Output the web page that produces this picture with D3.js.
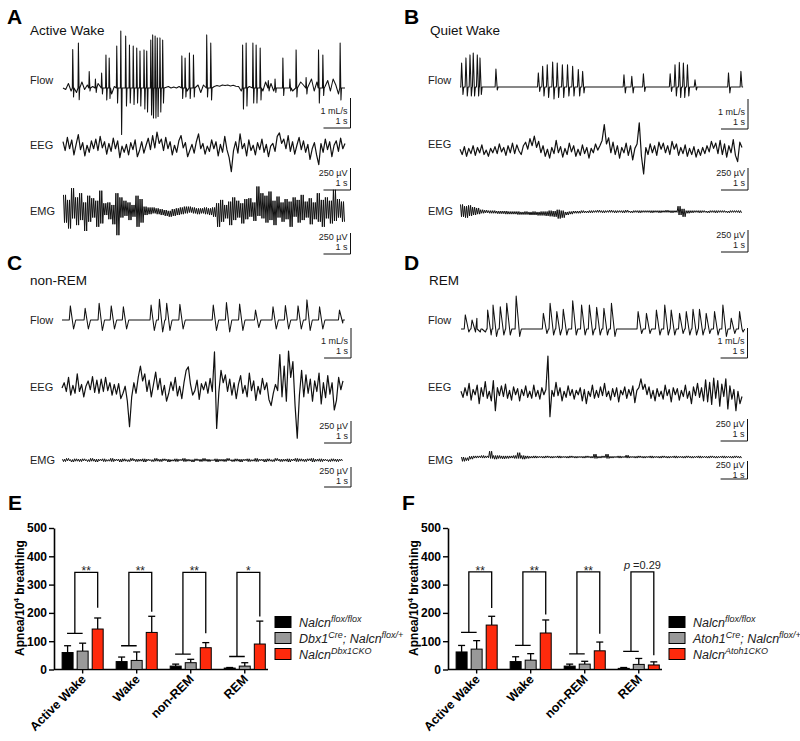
<!DOCTYPE html>
<html>
<head>
<meta charset="utf-8">
<script src="https://cdn.jsdelivr.net/npm/d3@7"></script>
<style>
  body { margin: 0; background: #fff; }
  svg { display: block; font-family: Arial, "Liberation Sans", sans-serif; }
</style>
</head>
<body>
<div id="fig"></div>
<script>
// ---- trace data (time in s, flow in mL/s, EEG/EMG in µV) ----
const DUR = 10.44;

// breaths: [time, peak, trough]
const flowA = [[0.36,1.28,-0.3],[0.57,1.5,-0.39],[0.97,0.55,-0.1],[1.2,0.3,-0.15],[1.43,0.5,-0.2],
  [1.59,1.1,-0.4],[1.71,1.0,-0.35],[1.99,1.4,-0.5],[2.14,1.9,-1.55],[2.32,1.73,-0.6],[2.46,1.43,-0.5],
  [2.6,1.4,-0.55],[2.73,1.33,-0.5],[2.85,1.23,-0.6],[3.0,1.27,-0.7],[3.1,1.23,-0.8],[3.25,1.6,-0.9],
  [3.32,1.77,-1.0],[3.41,1.73,-1.0],[3.49,1.67,-0.95],[3.59,1.67,-0.8],[3.69,1.6,-0.5],
  [4.4,1.07,-0.35],[4.52,1.0,-0.3],[4.68,1.17,-0.35],[4.83,1.1,-0.3],[5.32,1.77,-0.3],[5.47,1.5,-0.4],
  [6.65,1.43,-0.7],[6.78,1.5,-0.6],[7.03,1.5,-0.5],[7.15,1.43,-0.5],[7.3,1.33,-0.4],[7.6,0.25,-0.1],
  [7.85,0.3,-0.15],[8.14,1.0,-0.25],[8.4,0.3,-0.1],[8.63,1.27,-0.3],[9.0,0.35,-0.2],[9.46,1.27,-0.5],
  [9.62,1.1,-0.25],[10.26,1.5,-0.4]];
// baseline of flow A between breaths, every 0.1 s
const flowBaseA = [0.1,-0.05,0.15,-0.1,0.05,-0.15,0.1,0.2,-0.05,0.1,-0.1,
  0.05,-0.2,0.15,-0.1,0.0,-0.15,0.1,-0.2,0.05,-0.1,
  -0.2,0.1,-0.3,0.0,-0.2,0.05,-0.25,0.0,-0.3,-0.1,
  -0.3,0.0,-0.35,-0.1,-0.3,0.0,-0.15,0.02,0.05,0.0,
  0.03,0.0,0.05,-0.05,0.1,-0.1,0.05,0.15,-0.1,0.1,
  -0.15,0.1,-0.1,0.05,-0.05,0.05,0.08,0.06,0.1,0.08,
  0.1,0.07,0.09,0.06,0.05,-0.1,0.1,-0.2,0.05,-0.15,
  0.1,-0.2,0.1,-0.1,0.2,-0.05,0.15,-0.1,0.25,0.0,
  -0.1,0.2,0.0,0.15,-0.1,0.3,-0.05,0.2,0.1,0.4,
  0.1,0.3,-0.1,0.2,-0.2,0.1,0.05,0.25,-0.1,0.3,
  0.1,-0.2,0.2,0.0];
const flowB = [[0.06,0.8,-0.25],[0.22,0.97,-0.3],[0.37,1.07,-0.3],[0.49,1.13,-0.3],[0.64,1.07,-0.3],
  [0.74,0.97,-0.25],[1.33,0.6,-0.1],[2.9,0.47,-0.15],[3.06,0.69,-0.3],[3.23,0.74,-0.35],[3.43,0.83,-0.4],
  [3.6,0.8,-0.35],[3.79,0.74,-0.35],[3.98,0.74,-0.3],[4.17,0.69,-0.3],[4.38,0.58,-0.3],[4.54,0.52,-0.2],
  [6.07,0.41,-0.2],[6.36,0.36,-0.2],[6.79,0.44,-0.15],[7.78,0.44,-0.15],[7.96,0.74,-0.3],[8.12,0.82,-0.35],
  [8.27,0.8,-0.35],[8.42,0.74,-0.3],[8.7,0.24,-0.1],[9.94,0.47,-0.2],[10.4,0.52,0]];
const flowC = [[0.31,0.47,-0.3],[0.86,0.39,-0.3],[1.38,0.56,-0.35],[1.83,0.47,-0.3],[2.28,0.44,-0.3],
  [3.31,0.5,-0.35],[3.62,0.69,-0.4],[3.89,0.56,-0.35],[4.38,0.52,-0.3],[5.62,0.5,-0.35],[6.11,0.58,-0.4],
  [6.6,0.53,-0.35],[7.19,0.33,-0.25],[7.84,0.44,-0.3],[8.3,0.48,-0.3],[8.77,0.47,-0.3],[9.1,0.67,-0.35],
  [9.57,0.44,-0.3],[10.31,0.33,-0.1]];
const flowD = [[0.16,0.47,-0.1],[0.41,0.3,-0.1],[0.59,0.36,-0.1],[0.78,0.36,-0.1],[0.99,0.63,-0.2],
  [1.19,0.8,-0.25],[1.46,0.74,-0.2],[1.7,0.86,-0.2],[2.05,1.1,-0.25],[3.06,0.52,-0.15],[3.31,0.86,-0.2],
  [3.56,0.58,-0.2],[3.8,0.66,-0.2],[4.15,0.94,-0.2],[4.48,0.8,-0.2],[4.77,0.8,-0.2],[5.04,0.72,-0.2],
  [5.31,0.69,-0.2],[5.59,0.86,-0.25],[6.58,0.58,-0.15],[6.89,0.52,-0.15],[7.26,0.63,-0.2],[7.57,0.8,-0.2],
  [7.81,0.63,-0.2],[8.12,0.52,-0.15],[8.37,0.58,-0.2],[8.62,0.66,-0.2],[8.86,0.66,-0.2],[9.11,0.52,-0.15],
  [9.42,0.58,-0.2],[9.73,0.8,-0.25],[10.04,0.36,-0.15],[10.35,0.58,-0.1]];

// EEG: evenly spaced samples
const eegA = [60,-40,110,-20,80,-90,30,140,-30,50,-100,20,-60,70,-20,90,-40,
  120,-10,60,-80,40,-50,100,-20,70,-120,10,-60,30,-90,50,-30,80,-110,-40,60,-70,20,100,-30,130,-10,
  170,40,90,-40,110,-20,60,-90,20,-60,70,130,-10,50,-110,-40,30,-70,60,150,-20,40,-80,10,-50,80,-20,60,-100,30,-60,120,-30,-120,-280,
  -40,60,-70,150,-20,40,-100,80,-40,20,-90,50,-30,90,-60,30,-110,10,40,-50,120,160,40,90,-20,130,-50,60,-80,20,110,-30,70,-60,30,-140,-20,50,-90,-200,40,-60,90,-30,60,-110,20,70,-50,100,-20,40];
const eegB = [20,-40,50,-60,30,-30,60,-50,40,-20,70,-40,10,-60,30,-20,50,-30,80,-10,40,-50,60,-20,90,-30,70,0,-40,60,100,20,140,
  60,170,40,110,-20,60,-60,20,-80,40,-30,120,-20,50,-70,30,-40,90,-10,60,-60,20,-50,70,-30,40,-80,30,-20,80,10,60,
  120,300,80,150,-20,100,-40,60,-80,40,-20,90,-50,60,-100,30,80,320,-60,-260,40,-40,80,-20,60,-50,100,20,
  90,-20,60,-40,110,20,80,-50,40,-30,70,-60,30,-40,50,-70,20,-50,40,-30,60,-10,110,30,90,-30,120,-40,80,-70,60,-20,130,-50,-120,100,40];
const eegC = [0,60,-40,120,-80,30,-60,160,-40,40,-100,20,80,-20,130,-50,90,-60,100,-40,120,-30,60,-80,40,-70,50,-120,-60,20,
  -150,-440,-100,60,-60,120,250,80,160,-40,90,-100,40,180,-20,110,-80,30,-150,-60,70,-30,120,-90,20,-120,60,200,240,40,-80,-30,90,-130,50,-20,70,-60,110,-40,
  410,-460,-50,200,60,150,-40,100,-80,60,-120,40,140,-60,30,-100,170,-30,80,-140,20,-70,110,-20,60,-130,-200,-60,40,-30,380,-100,250,-150,420,120,300,-200,-570,-80,
  200,-100,150,-60,100,-150,80,-40,170,-180,60,-110,140,-70,60,-250,-140,120,-20,80];
const eegD = [20,-50,60,-30,110,-80,40,-20,90,-120,60,-40,130,-60,20,-90,140,-200,60,-30,80,-40,100,-60,30,-80,70,-20,50,-90,40,-30,80,-50,20,-60,90,-40,30,-70,60,-20,40,420,-270,
  30,-40,120,-30,60,-90,20,-50,80,-30,40,-70,30,-20,60,-90,40,-120,20,-40,90,-60,30,-50,70,-30,110,-40,20,-80,50,-40,60,-100,30,-20,70,-60,40,-30,80,-110,30,
  60,160,40,100,-20,70,-60,30,-90,50,-40,20,-70,90,-30,40,-100,60,-20,50,-80,30,-40,90,-60,20,-120,70,-30,110,-50,60,-90,150,-100,120,-130,170,-60,140,-150,100,-40,160,-180,80,-70,40,-200,20,-120,-40];

// EMG: [low, high] per time bin
const emgA = [[-150,180],[-220,120],[-100,260],[-180,150],[-120,200],[-250,90],[-140,170],[-90,140],[-200,110],[-160,230],
  [-60,80],[-110,90],[-170,60],[-300,200],[-90,150],[-70,110],[-120,90],[-80,60],[-200,170],[-150,130],
  [-60,40],[-50,30],[-40,30],[-50,20],[-60,10],[-70,0],[-80,-10],[-70,10],[-60,20],[-50,30],[-40,40],[-30,40],[-40,30],[-50,20],[-40,20],[-50,30],[-60,20],[-80,30],
  [-200,80],[-140,120],[-100,60],[-180,100],[-120,150],[-90,110],[-160,80],[-110,130],[-80,140],[-130,90],[-70,280],[-100,200],[-150,170],[-120,220],[-180,110],[-90,160],
  [-140,90],[-110,130],[-200,100],[-80,150],[-150,120],[-120,180],[-90,100],[-170,140],[-110,90],[-140,200],[-200,120],[-100,150],[-160,110],[-130,240],[-90,130],[-140,100]];
const emgB = [[-60,80],[-70,60],[-50,70],[-40,50],[-30,40],[-20,20],
  [-15,15],[-20,10],[-20,10],[-25,5],[-25,5],[-30,5],[-30,0],[-30,0],[-35,0],[-35,-5],[-35,0],[-40,-5],[-40,0],[-45,-5],[-45,0],[-50,0],[-55,10],[-60,5],
  [-80,20],[-70,10],[-40,-5],[-30,0],
  [-20,5],[-20,5],[-15,10],[-15,5],[-15,10],[-10,10],[-10,15],[-15,10],[-10,10],[-10,15],[-15,10],[-10,10],[-15,10],[-10,15],[-15,5],[-10,10],[-15,10],[-10,10],[-10,10],[-15,10],[-10,10],[-15,10],[-10,10],[-10,15],[-15,10],[-10,10],[-40,60],[-60,30],
  [-20,10],[-15,10],[-10,10],[-15,10],[-10,10],[-15,5],[-10,10],[-15,10],[-10,10],[-10,10],[-15,5],[-10,10],[-10,10],[-15,10]];
const emgC = [[-20,10],[-10,20],[-25,5],[-15,15],[-20,10],[-10,15],[-20,5],[-15,20],[-25,10],[-10,10],
  [-20,15],[-15,5],[-20,20],[-10,10],[-25,10],[-15,15],[-20,5],[-10,20],[-20,10],[-15,10],
  [-25,15],[-10,10],[-20,5],[-15,20],[-20,10],[-10,15],[-25,10],[-15,5],[-20,15],[-10,10],
  [-20,20],[-15,10],[-25,5],[-10,15],[-20,10],[-15,20],[-20,10],[-10,5],[-25,15],[-15,10],
  [-20,10],[-10,20],[-20,5],[-15,15],[-25,10],[-10,10],[-20,15],[-15,5],[-20,20],[-10,10],
  [-25,10],[-15,15],[-20,5],[-10,20],[-20,10],[-15,10],[-25,15],[-10,10],[-20,20],[-15,15],
  [-20,10],[-10,15],[-25,20],[-15,10],[-20,15],[-10,10],[-20,5],[-15,15],[-20,10],[-10,10]];
const emgD = [[-60,0],[-50,-10],[-30,10],[-15,15],[-10,15],[-15,20],[-10,15],[-20,80],[-30,20],[-20,20],
  [-25,15],[-20,15],[-15,15],[-20,20],[-20,60],[-30,20],[-20,15],[-15,10],[-15,15],[-10,10],
  [-15,10],[-10,15],[-15,10],[-10,10],[-15,15],[-10,10],[-15,10],[-10,15],[-15,10],[-10,10],
  [-15,10],[-10,15],[-15,10],[-20,40],[-15,10],[-10,15],[-20,40],[-15,10],[-10,10],[-15,15],
  [-10,10],[-15,25],[-10,10],[-15,10],[-10,15],[-15,10],[-10,10],[-15,15],[-10,10],[-15,10],
  [-10,15],[-15,10],[-10,10],[-15,15],[-10,10],[-15,10],[-10,15],[-15,10],[-10,10],[-15,15],
  [-10,10],[-15,10],[-10,15],[-15,10],[-10,10],[-15,15],[-10,10],[-15,10],[-10,15],[-15,10]];

// ---- bar chart data (apnea per 10^4 breaths, mean and SEM) ----
const states = ["Active Wake", "Wake", "non-REM", "REM"];
const groups = ["ctrl", "het", "cko"];

const eCtrl = [60, 28, 12, 5],    eCtrlErr = [24, 16, 7, 2];
const eHet  = [65, 32, 24, 12],   eHetErr  = [28, 30, 12, 12];
const eCko  = [143, 131, 77, 90], eCkoErr  = [39, 57, 18, 81];
const eBracketLow = [128, 84, 54, 46], eBracketEnd = [218, 204, 128, 187];
const eSig = ["**", "**", "**", "*"];

const fCtrl = [62, 28, 12, 4],    fCtrlErr = [23, 17, 7, 3];
const fHet  = [72, 33, 19, 18],   fHetErr  = [30, 23, 10, 21];
const fCko  = [157, 129, 66, 16], fCkoErr  = [31, 46, 31, 11];
const fBracketLow = [131, 85, 55, 64], fBracketEnd = [217, 194, 126, 50];
const fSig = ["**", "**", "**", "p =0.29"];

const yTicks = [0, 100, 200, 300, 400, 500];

// ---------------------------------------------------------------
const svg = d3.select("#fig").append("svg")
  .attr("width", 800).attr("height", 741)
  .attr("viewBox", "0 0 800 741");

svg.append("rect").attr("width", 800).attr("height", 741).attr("fill", "#fff");

const ink = "#111";

// trace panels A-D
const tracePanels = [
  { letter: "A", title: "Active Wake", lx: 7, ly: 24, tx: 30, ty: 35, labX: 30, labY: [84, 149, 215],
    x0: 63, x1: 345, flowBase: 88, eegMid: 147, emgMid: 210, emgPx: 21, barX: 350.5, barBottom: [128, 190, 254],
    flow: flowA, flowNoise: flowBaseA, shape: [0.015, 0.03, 0.02], eeg: eegA, emg: emgA },
  { letter: "B", title: "Quiet Wake", lx: 404, ly: 24, tx: 430, ty: 35, labX: 428, labY: [84, 148, 215],
    x0: 460, x1: 742, flowBase: 87, eegMid: 151, emgMid: 211.5, emgPx: 22, barX: 748, barBottom: [129, 190, 252],
    flow: flowB, flowNoise: null, shape: [0.03, 0.05, 0.03], eeg: eegB, emg: emgB },
  { letter: "C", title: "non-REM", lx: 7, ly: 270, tx: 30, ty: 285, labX: 30, labY: [324, 391, 464],
    x0: 62, x1: 343, flowBase: 320, eegMid: 388, emgMid: 460, emgPx: 20, barX: 351, barBottom: [358, 443, 487],
    flow: flowC, flowNoise: null, shape: [0.04, 0.12, 0.08], eeg: eegC, emg: emgC },
  { letter: "D", title: "REM", lx: 404, ly: 270, tx: 429, ty: 285, labX: 428, labY: [324, 391, 464],
    x0: 461, x1: 742, flowBase: 329, eegMid: 393, emgMid: 457, emgPx: 18, barX: 747.5, barBottom: [358, 441, 479],
    flow: flowD, flowNoise: null, shape: [0.04, 0.13, 0.06], eeg: eegD, emg: emgD }
];

const flowPoints = (breaths, shape, noise) => {
  const pts = [[0, 0]];
  const spans = [];
  breaths.forEach(([t, pk, tr]) => {
    pts.push([t - shape[0], 0], [t, pk], [t + shape[1], tr], [t + shape[1] + shape[2], 0]);
    spans.push([t - shape[0] - 0.03, t + shape[1] + shape[2] + 0.03]);
  });
  if (noise) {
    noise.forEach((v, i) => {
      const t = i * 0.1;
      if (!spans.some(([a, b]) => t >= a && t <= b)) pts.push([t, v]);
    });
  }
  pts.push([DUR, 0]);
  pts.sort((a, b) => a[0] - b[0]);
  let last = -1;
  return pts.filter(p => (p[0] > last ? ((last = p[0]), true) : false));
};

tracePanels.forEach(p => {
  const g = svg.append("g");
  const x = d3.scaleLinear().domain([0, DUR]).range([p.x0, p.x1]);
  const yFlow = d3.scaleLinear().domain([0, 1]).range([p.flowBase, p.flowBase - 30]);
  const yEeg = d3.scaleLinear().domain([0, 250]).range([p.eegMid, p.eegMid - 22]);
  const yEmg = d3.scaleLinear().domain([0, 250]).range([p.emgMid, p.emgMid - p.emgPx]);

  g.append("text").attr("x", p.lx).attr("y", p.ly).text(p.letter)
    .style("font-size", "21px").style("font-weight", "bold");
  g.append("text").attr("x", p.tx).attr("y", p.ty).text(p.title)
    .style("font-size", "13.5px").style("fill", ink);

  ["Flow", "EEG", "EMG"].forEach((lab, i) => {
    g.append("text").attr("x", p.labX).attr("y", p.labY[i]).text(lab)
      .style("font-size", "11px").style("fill", "#222");
  });

  // flow
  g.append("path")
    .datum(flowPoints(p.flow, p.shape, p.flowNoise))
    .attr("d", d3.line().x(d => x(d[0])).y(d => yFlow(d[1])))
    .attr("fill", "none").attr("stroke", ink).attr("stroke-width", 1.05).attr("stroke-linejoin", "round");

  // eeg
  const n = p.eeg.length;
  g.append("path")
    .datum(p.eeg)
    .attr("d", d3.line().x((v, i) => x(i / (n - 1) * DUR)).y(v => yEeg(v)))
    .attr("fill", "none").attr("stroke", ink).attr("stroke-width", 1.2).attr("stroke-linejoin", "round");

  // emg: each bin drawn as a dense min/max sweep
  const m = p.emg.length;
  const emgPts = p.emg.flatMap(([lo, hi], i) =>
    [0, 1, 2, 3].map(k => [(i + (k + 0.5) / 4) / m * DUR, k % 2 ? lo : hi]));
  g.append("path")
    .datum(emgPts)
    .attr("d", d3.line().x(d => x(d[0])).y(d => yEmg(d[1])))
    .attr("fill", "none").attr("stroke", ink).attr("stroke-width", 1).attr("stroke-linejoin", "round");

  // scale bars
  const sec = x(1) - x(0);
  const heights = [yFlow(0) - yFlow(1), yEeg(0) - yEeg(250), yEmg(0) - yEmg(250)];
  const texts = ["1 mL/s", "250 µV", "250 µV"];
  p.barBottom.forEach((bot, i) => {
    const top = bot - heights[i];
    g.append("path")
      .attr("d", `M${p.barX},${top}V${bot}H${p.barX - sec}`)
      .attr("fill", "none").attr("stroke", ink).attr("stroke-width", 1);
    const t1 = Math.max(bot - 14, top + 7);
    g.append("text").attr("x", p.barX - 3).attr("y", t1).text(texts[i])
      .attr("text-anchor", "end").style("font-size", "9px").style("fill", "#222");
    g.append("text").attr("x", p.barX - 3).attr("y", t1 + 10).text("1 s")
      .attr("text-anchor", "end").style("font-size", "9px").style("fill", "#222");
  });
});

// bar charts E and F
const barCharts = [
  { letter: "E", ox: 0, ctrl: eCtrl, ctrlErr: eCtrlErr, het: eHet, hetErr: eHetErr, cko: eCko, ckoErr: eCkoErr,
    low: eBracketLow, end: eBracketEnd, top: 343, sig: eSig,
    legend: [[["Nalcn"], ["flox/flox", 1]], [["Dbx1"], ["Cre", 1], ["; Nalcn"], ["flox/+", 1]], [["Nalcn"], ["Dbx1CKO", 1]]] },
  { letter: "F", ox: 394, ctrl: fCtrl, ctrlErr: fCtrlErr, het: fHet, hetErr: fHetErr, cko: fCko, ckoErr: fCkoErr,
    low: fBracketLow, end: fBracketEnd, top: 345, sig: fSig,
    legend: [[["Nalcn"], ["flox/flox", 1]], [["Atoh1"], ["Cre", 1], ["; Nalcn"], ["flox/+", 1]], [["Nalcn"], ["Atoh1CKO", 1]]] }
];

const fills = { ctrl: "#000", het: "#999", cko: "#fe2a0c" };

barCharts.forEach(c => {
  const g = svg.append("g").attr("transform", `translate(${c.ox},0)`);
  const axisX = 54, axisEnd = 268;
  const y = d3.scaleLinear().domain([0, 500]).range([669.5, 528]);
  const x0 = d3.scaleBand().domain(states).range([axisX, axisEnd])
    .paddingInner(0.24).paddingOuter(0.1).align(0.75);
  const x1 = d3.scaleBand().domain(groups).range([0, x0.bandwidth()]).paddingInner(0.27);
  const bw = x1.bandwidth();

  g.append("text").attr("x", 8).attr("y", 510).text(c.letter)
    .style("font-size", "21px").style("font-weight", "bold");

  // y axis
  const yAxis = g.append("g").attr("transform", `translate(${axisX},0)`)
    .call(d3.axisLeft(y).tickValues(yTicks).tickSize(5).tickPadding(2).tickSizeOuter(0));
  yAxis.select(".domain").attr("stroke", "#000").attr("stroke-width", 1.6);
  yAxis.selectAll(".tick line").attr("stroke-width", 1.4);
  yAxis.selectAll(".tick text").style("font-size", "12px").style("font-weight", "bold")
    .style("font-family", "Arial, 'Liberation Sans', sans-serif").attr("fill", "#000");

  const yl = g.append("text")
    .attr("transform", `translate(24,598) rotate(-90)`)
    .attr("text-anchor", "middle")
    .style("font-size", "12px").style("font-weight", "bold");
  yl.append("tspan").text("Apnea/10");
  yl.append("tspan").text("4").attr("dy", -5).style("font-size", "8px");
  yl.append("tspan").text(" breathing").attr("dy", 5);

  // x axis
  const xAxis = g.append("g").attr("transform", `translate(0,669.5)`)
    .call(d3.axisBottom(x0).tickSize(4).tickSizeOuter(0).tickFormat(""));
  xAxis.select(".domain").attr("d", `M${axisX},0H${axisEnd}`).attr("stroke-width", 1.6);
  xAxis.selectAll(".tick line").attr("stroke-width", 1.4);

  g.selectAll(".xlab").data(states).join("text")
    .attr("transform", d => `translate(${x0(d) + x0.bandwidth() / 2 + 4},680) rotate(-45)`)
    .attr("text-anchor", "end")
    .style("font-size", "12.5px").style("font-weight", "bold")
    .text(d => d);

  // bars + error bars
  const series = [["ctrl", c.ctrl, c.ctrlErr], ["het", c.het, c.hetErr], ["cko", c.cko, c.ckoErr]];
  series.forEach(([key, vals, errs]) => {
    const sg = g.append("g");
    sg.selectAll("line.err").data(states).join("line")
      .attr("x1", d => x0(d) + x1(key) + bw / 2).attr("x2", d => x0(d) + x1(key) + bw / 2)
      .attr("y1", (d, i) => y(vals[i])).attr("y2", (d, i) => y(vals[i] + errs[i]))
      .attr("stroke", "#000").attr("stroke-width", 1.3);
    sg.selectAll("line.cap").data(states).join("line")
      .attr("x1", d => x0(d) + x1(key) + bw / 2 - 3.5).attr("x2", d => x0(d) + x1(key) + bw / 2 + 3.5)
      .attr("y1", (d, i) => y(vals[i] + errs[i])).attr("y2", (d, i) => y(vals[i] + errs[i]))
      .attr("stroke", "#000").attr("stroke-width", 1.3);
    sg.selectAll("rect").data(states).join("rect")
      .attr("x", d => x0(d) + x1(key)).attr("width", bw)
      .attr("y", (d, i) => y(vals[i])).attr("height", (d, i) => y(0) - y(vals[i]))
      .attr("fill", fills[key]).attr("stroke", "#000").attr("stroke-width", 1);
  });

  // significance brackets
  states.forEach((s, i) => {
    const a = x0(s) + x1("ctrl") + bw * 0.45;
    const b = x0(s) + x1("het") + bw * 0.5;
    const mid = (a + b) / 2;
    const r = x0(s) + x1("cko") + bw / 2;
    g.append("path")
      .attr("d", `M${a},${y(c.low[i])}H${b}M${mid},${y(c.low[i])}V${y(c.top)}H${r}V${y(c.end[i])}`)
      .attr("fill", "none").attr("stroke", "#000").attr("stroke-width", 1.3);
    const lab = g.append("text").attr("x", (mid + r) / 2).attr("text-anchor", "middle")
      .style("font-size", "12px").style("fill", "#222");
    if (c.sig[i].startsWith("p")) {
      lab.attr("y", y(c.top) - 3).style("font-size", "11px");
      lab.append("tspan").text("p").style("font-style", "italic");
      lab.append("tspan").text(c.sig[i].slice(1));
    } else {
      lab.attr("y", y(c.top) + 3).text(c.sig[i]);
    }
  });

  // legend
  const rows = [622, 638, 654];
  c.legend.forEach((parts, i) => {
    g.append("rect").attr("x", 275).attr("y", rows[i] - 5.5).attr("width", 16).attr("height", 11)
      .attr("fill", fills[groups[i]]).attr("stroke", "#000").attr("stroke-width", 1);
    const t = g.append("text").attr("x", 299).attr("y", rows[i] + 4.5)
      .style("font-size", "12.5px").style("font-style", "italic").style("fill", "#222");
    let up = false;
    parts.forEach(([txt, sup]) => {
      const ts = t.append("tspan").text(txt);
      if (sup && !up) { ts.attr("dy", -5).style("font-size", "9px"); up = true; }
      else if (sup) { ts.style("font-size", "9px"); }
      else if (up) { ts.attr("dy", 5); up = false; }
    });
  });
});
</script>
</body>
</html>
